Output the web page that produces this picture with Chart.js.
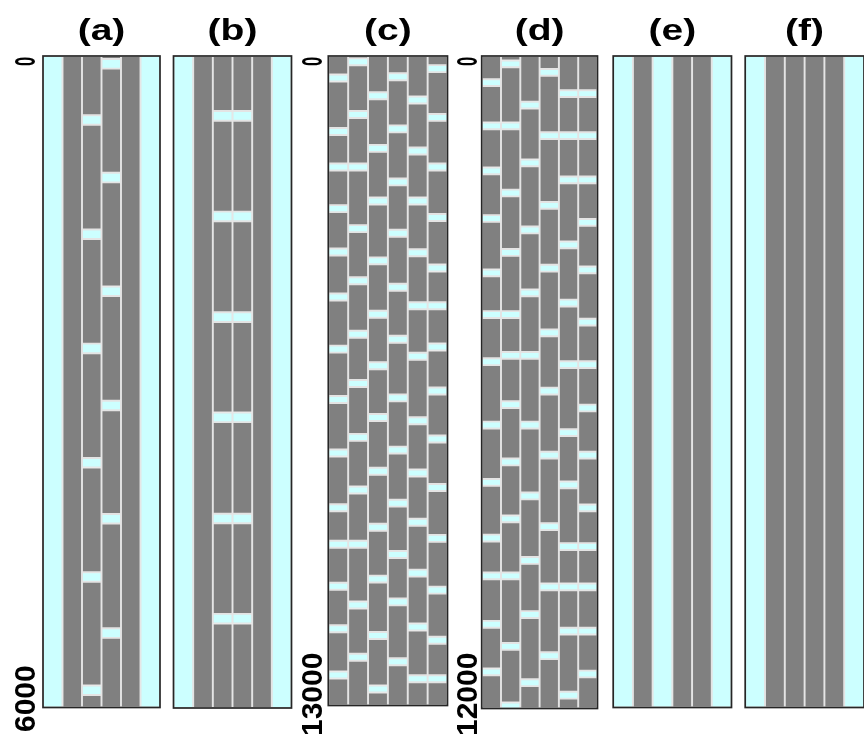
<!DOCTYPE html>
<html>
<head>
<meta charset="utf-8">
<script src="https://cdn.jsdelivr.net/npm/chart.js@4/dist/chart.umd.min.js"></script>
<style>
  html, body { margin: 0; padding: 0; background: #ffffff; }
  #stage { position: relative; width: 864px; height: 744px; overflow: hidden; }
  #stage canvas { position: absolute; left: 0; top: 0; }
</style>
</head>
<body>
<div id="stage"></div>
<script>
// Six worker schedules. Every panel has six lanes; a lane is idle for the
// whole run (null), busy for the whole run ([]), or busy with short idle
// breaks that start at the listed times.
const panelTitles = ['(a)', '(b)', '(c)', '(d)', '(e)', '(f)'];
const laneNames = ['1', '2', '3', '4', '5', '6'];
const runLength = [6000, 6000, 13000, 12000, 6000, 6000];
const breakLength = [88, 88, 140, 125, 0, 0];
const axisLabels = [['0', '6000'], null, ['0', '13000'], ['0', '12000'], null, null];

const breaksA = [
  null,
  [],
  [545, 1597, 2649, 3702, 4754, 5797],
  [28, 1076, 2123, 3175, 4218, 5271],
  [],
  null
];
const breaksB = [
  null,
  [],
  [507, 1432, 2359, 3281, 4212, 5134],
  [507, 1432, 2359, 3281, 4212, 5134],
  [],
  null
];
const breaksC = [
  [370, 1440, 2153, 2985, 3852, 4752, 5797, 6807, 7877, 8973, 9703, 10544, 11393, 12319],
  [47, 1100, 2153, 3385, 4429, 5499, 6485, 7563, 8616, 9703, 10918, 11963],
  [726, 1779, 2833, 4030, 5100, 6128, 7164, 8243, 9364, 10400, 11529, 12600],
  [344, 1389, 2450, 3478, 4557, 5601, 6773, 7818, 8880, 9907, 10856, 12056],
  [811, 1830, 2833, 3869, 4930, 5941, 7232, 8277, 9262, 10281, 11359, 12396],
  [183, 1159, 2153, 3164, 4174, 4930, 5754, 6637, 7597, 8565, 9585, 10621, 11623, 12396]
];
const breaksD = [
  [426, 1223, 2051, 2926, 3927, 4692, 5560, 6724, 7779, 8802, 9498, 10389, 11264],
  [82, 1223, 2457, 3551, 4692, 5442, 6349, 7404, 8450, 9498, 10795, 11889],
  [840, 1903, 3137, 4294, 5442, 6724, 8029, 9215, 10209, 11463],
  [238, 1403, 2684, 3840, 5028, 6099, 7279, 8592, 9701, 10967],
  [629, 1403, 2215, 3411, 4481, 5614, 6864, 7826, 8959, 9701, 10514, 11693],
  [629, 1403, 2215, 2997, 3872, 4833, 5614, 6411, 7279, 8248, 8959, 9701, 10514, 11303]
];
const breaksE = [null, [], null, [], [], null];
const breaksF = [null, [], [], [], [], null];

const panels = [breaksA, breaksB, breaksC, breaksD, breaksE, breaksF];

// Page geometry (pixels)
const W = 864, H = 744;
const plotTop = 56;
const plotLeft = [43, 173.5, 328.3, 481.7, 613.2, 745.2];
const plotRight = [160, 291.5, 447.5, 597.5, 731.5, 864];
const plotBottom = [707.5, 708, 705.5, 708.5, 707.5, 707.5];
const labelX = [34.5, null, 322, 477, null, null];
const labelEndY = [732, null, 736, 736, null, null];

const BUSY = '#808080';
const IDLE = '#ccffff';
const EDGE = '#e4e4e4';
const FONT = 'bold 30px "Liberation Sans", Arial, sans-serif';

// Turn a lane list into floating bars: busy runs and idle stretches.
function laneBars(lanes, end, len) {
  const busy = [], idle = [];
  lanes.forEach((breaks, i) => {
    const lane = laneNames[i];
    if (breaks === null) {
      idle.push({ x: lane, y: [0, end] });
      return;
    }
    let t = 0;
    breaks.forEach(b => {
      busy.push({ x: lane, y: [t, b] });
      idle.push({ x: lane, y: [b, Math.min(b + len, end)] });
      t = b + len;
    });
    if (t < end) busy.push({ x: lane, y: [t, end] });
  });
  return { busy, idle };
}

// Frame, panel title and rotated end labels of the time axis.
const panelDecor = {
  id: 'panelDecor',
  afterDraw(chart, _args, o) {
    const { ctx, chartArea: a } = chart;
    const ys = chart.scales.y;
    ctx.save();
    ctx.lineWidth = 1.7;
    ctx.strokeStyle = '#262626';
    ctx.strokeRect(a.left, a.top, a.right - a.left, a.bottom - a.top);

    ctx.fillStyle = '#000000';
    ctx.font = FONT;
    ctx.textBaseline = 'alphabetic';

    ctx.save();
    ctx.translate((a.left + a.right) / 2, 40);
    ctx.scale(1.3, 1);
    ctx.textAlign = 'center';
    ctx.fillText(o.title, 0, 0);
    ctx.restore();

    if (o.labels) {
      ctx.textAlign = 'left';
      const y0 = ys.getPixelForValue(ys.min);
      ctx.save();
      ctx.translate(o.x, y0 + 10);
      ctx.rotate(-Math.PI / 2);
      ctx.scale(0.55, 1);
      ctx.fillText(o.labels[0], 0, 0);
      ctx.restore();

      ctx.save();
      ctx.translate(o.x, o.endY);
      ctx.rotate(-Math.PI / 2);
      ctx.fillText(o.labels[1], 0, 0);
      ctx.restore();
    }
    ctx.restore();
  }
};

const stage = document.getElementById('stage');

panels.forEach((lanes, p) => {
  const cv = document.createElement('canvas');
  cv.width = W;
  cv.height = H;
  cv.style.width = W + 'px';
  cv.style.height = H + 'px';
  stage.appendChild(cv);

  const { busy, idle } = laneBars(lanes, runLength[p], breakLength[p]);
  const barStyle = {
    borderColor: EDGE,
    borderWidth: 1.3,
    borderSkipped: false,
    grouped: false,
    categoryPercentage: 1,
    barPercentage: 1
  };

  new Chart(cv, {
    type: 'bar',
    data: {
      labels: laneNames,
      datasets: [
        Object.assign({ label: 'idle', data: idle, backgroundColor: IDLE }, barStyle),
        Object.assign({ label: 'busy', data: busy, backgroundColor: BUSY }, barStyle)
      ]
    },
    options: {
      responsive: false,
      animation: false,
      devicePixelRatio: 1,
      layout: {
        padding: {
          left: plotLeft[p],
          right: W - plotRight[p],
          top: plotTop,
          bottom: H - plotBottom[p]
        }
      },
      scales: {
        x: { type: 'category', display: false, offset: true },
        y: { type: 'linear', display: false, min: 0, max: runLength[p], reverse: true }
      },
      plugins: {
        legend: { display: false },
        tooltip: { enabled: false },
        title: { display: false },
        panelDecor: {
          title: panelTitles[p],
          labels: axisLabels[p],
          x: labelX[p],
          endY: labelEndY[p]
        }
      }
    },
    plugins: [panelDecor]
  });
});
</script>
</body>
</html>
